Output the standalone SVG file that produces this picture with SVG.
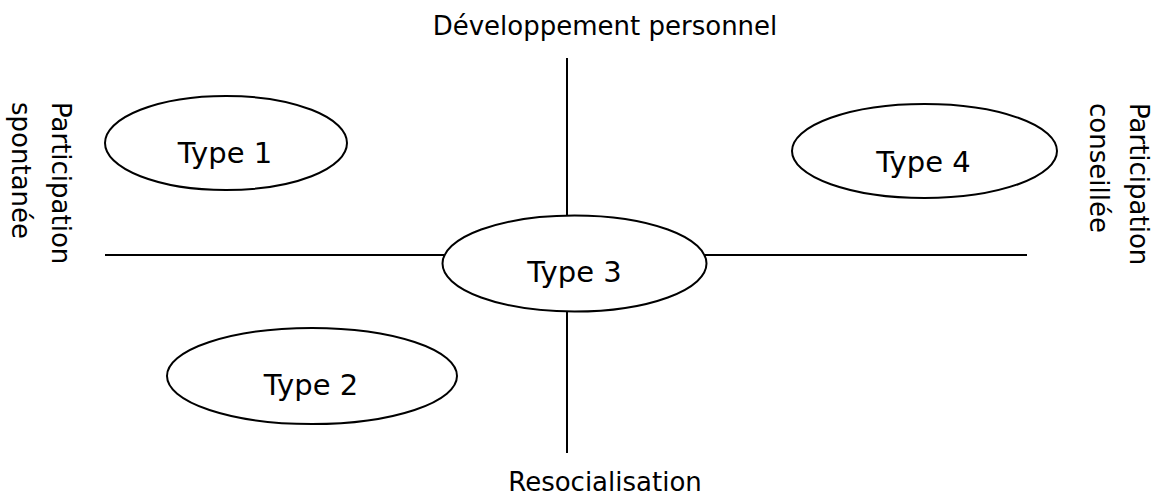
<svg xmlns="http://www.w3.org/2000/svg" width="1152" height="497" viewBox="0 0 1152 497">
<style>
  .ax { stroke: #000; stroke-width: 2; fill: none; }
  .node ellipse { fill: #fff; stroke: #000; stroke-width: 2; }
  .t { font-family: "DejaVu Sans", Verdana, sans-serif; fill: #000; }
  .lbl { font-size: 29px; text-anchor: middle; }
  .axl { font-size: 26px; }
</style>
<rect width="1152" height="497" fill="#fff"/>
<g id="connectors">
  <line class="ax" x1="567" y1="58" x2="567" y2="216"/>
  <line class="ax" x1="567" y1="311" x2="567" y2="453"/>
  <line class="ax" x1="105" y1="255" x2="444" y2="255"/>
  <line class="ax" x1="705" y1="255" x2="1027" y2="255"/>
</g>
<g id="type1" class="node">
  <ellipse cx="226" cy="143" rx="121" ry="47"/>
  <text class="t lbl" x="225" y="163">Type 1</text>
</g>
<g id="type2" class="node">
  <ellipse cx="312" cy="376" rx="145" ry="48"/>
  <text class="t lbl" x="311" y="395">Type 2</text>
</g>
<g id="type3" class="node">
  <ellipse cx="574.5" cy="263.5" rx="132" ry="48"/>
  <text class="t lbl" x="574.5" y="282">Type 3</text>
</g>
<g id="type4" class="node">
  <ellipse cx="924.5" cy="151" rx="132.5" ry="47"/>
  <text class="t lbl" x="923.5" y="172">Type 4</text>
</g>
<g id="labels">
  <text class="t axl" x="605" y="35" text-anchor="middle">Développement personnel</text>
  <text class="t axl" x="605" y="491" text-anchor="middle">Resocialisation</text>
  <text class="t axl" transform="translate(52,102) rotate(90)">Participation</text>
  <text class="t axl" transform="translate(12,102) rotate(90)">spontanée</text>
  <text class="t axl" transform="translate(1130,103) rotate(90)">Participation</text>
  <text class="t axl" transform="translate(1090,103) rotate(90)">conseillée</text>
</g>
</svg>
